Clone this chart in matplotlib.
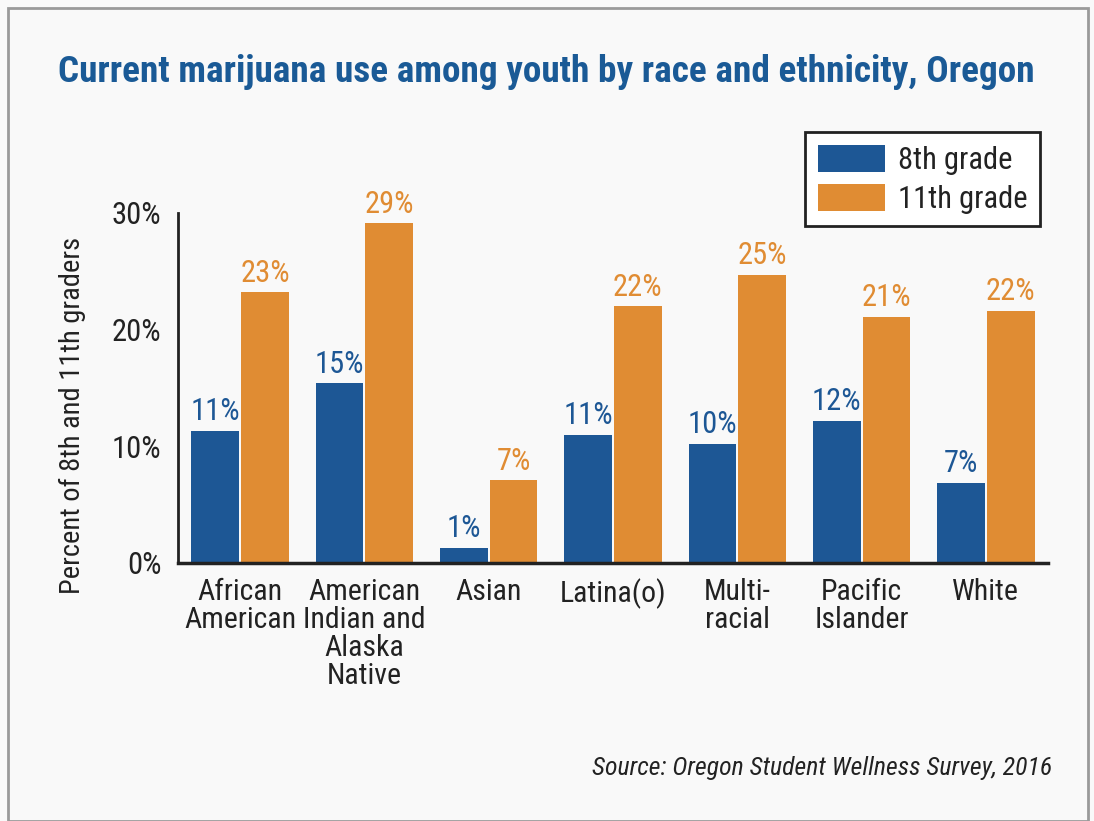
import matplotlib
matplotlib.use("Agg")
import matplotlib.pyplot as plt
from matplotlib.patches import Rectangle
from matplotlib import font_manager as fm
import numpy as np

names = {f.name for f in fm.fontManager.ttflist}
FAM = [n for n in ["Liberation Sans Narrow", "Roboto Condensed", "Liberation Sans", "DejaVu Sans"] if n in names]
plt.rcParams['font.family'] = FAM

categories = ["African\nAmerican", "American\nIndian and\nAlaska\nNative", "Asian", "Latina(o)",
              "Multi-\nracial", "Pacific\nIslander", "White"]
grade8 = [11.3, 15.4, 1.3, 11.0, 10.2, 12.2, 6.9]
grade11 = [23.2, 29.1, 7.1, 22.0, 24.7, 21.1, 21.6]
labels8 = ["11%", "15%", "1%", "11%", "10%", "12%", "7%"]
labels11 = ["23%", "29%", "7%", "22%", "25%", "21%", "22%"]
yticks = [0, 10, 20, 30]
yticklabels = ["0%", "10%", "20%", "30%"]

BLUE = "#1d5795"
ORANGE = "#e08c33"
BG = "#f9f9f9"
TXT = "#222222"

fig = plt.figure(figsize=(10.94, 8.21), dpi=100, facecolor=BG)
fig.patches.append(Rectangle((8/1094, 0), (1088-8)/1094, 1-8/821, transform=fig.transFigure,
                             fill=False, edgecolor="#9a9a9a", linewidth=2))
ax = fig.add_axes([178/1094, 1-563/821, (1048-178)/1094, (563-213)/821])
ax.set_facecolor(BG)
x = np.arange(len(categories))
w = 0.385
off = 0.2
ax.bar(x - off, grade8, w, color=BLUE, label="8th grade")
ax.bar(x + off, grade11, w, color=ORANGE, label="11th grade")
for xi, v, t in zip(x, grade8, labels8):
    ax.text(xi - off, v + 0.4, t, ha="center", va="bottom", color=BLUE, fontsize=22)
for xi, v, t in zip(x, grade11, labels11):
    ax.text(xi + off, v + 0.4, t, ha="center", va="bottom", color=ORANGE, fontsize=22)

ax.set_xlim(-0.5, 6.5)
ax.set_ylim(0, 30)
ax.set_yticks(yticks)
ax.set_yticklabels(yticklabels, fontsize=22, color=TXT)
ax.set_xticks(x)
ax.set_xticklabels(categories, fontsize=21.5, linespacing=1.0, va="top", color=TXT)
ax.tick_params(axis="both", length=0)
ax.tick_params(axis="x", pad=11)
ax.tick_params(axis="y", pad=12)
for s in ["top", "right"]:
    ax.spines[s].set_visible(False)
ax.spines["left"].set_linewidth(2)
ax.spines["bottom"].set_linewidth(2.5)
ax.spines["left"].set_color(TXT)
ax.spines["bottom"].set_color(TXT)

fig.text(72/1094, 1-415/821, "Percent of 8th and 11th graders", rotation=90, ha="center", va="center",
         fontsize=20.5, color=TXT)

leg = ax.legend(loc="upper right", bbox_to_anchor=(1040/1094, 1-132/821), bbox_transform=fig.transFigure,
                fontsize=22, frameon=True, fancybox=False, edgecolor=TXT, framealpha=1,
                handlelength=2.2, handleheight=1.0, handletextpad=0.4, borderpad=0.42,
                labelspacing=0.28, borderaxespad=0)
leg.get_frame().set_linewidth(2)
for t in leg.get_texts():
    t.set_color(TXT)

fig.text(58/1094, 1-72/821, "Current marijuana use among youth by race and ethnicity, Oregon",
         ha="left", va="center", fontsize=26.8, fontweight="bold", color="#1a5a96")
fig.text(1052/1094, 1-768/821, "Source: Oregon Student Wellness Survey, 2016",
         ha="right", va="center", fontsize=18.5, style="italic", color=TXT)

fig.savefig("out.png", dpi=100, facecolor=BG)
